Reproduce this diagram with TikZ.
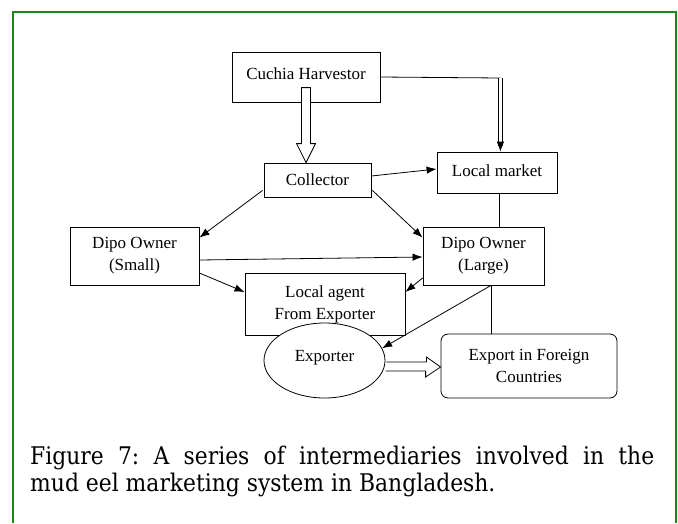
\documentclass[tikz,border=0pt]{standalone}
\usepackage{fontspec}
\setmainfont{Liberation Serif}
\newfontfamily\capfont{DejaVu Serif Condensed}
\usetikzlibrary{shapes.geometric, arrows.meta, calc}
\definecolor{framegreen}{RGB}{28,134,28}
\tikzstyle{box} = [rectangle, draw, line width=0.8pt, text centered, align=center, font=\fontsize{17}{22}\selectfont, inner sep=0pt]
\tikzstyle{oval} = [ellipse, draw, line width=0.8pt, fill=white, font=\fontsize{17}{22}\selectfont, inner sep=0pt]
\tikzstyle{arrow} = [line width=0.8pt, -{Latex[length=10pt,width=7.5pt]}]
\tikzstyle{link} = [line width=0.8pt]
\tikzstyle{hollow} = [line width=0.8pt, fill=white]

\begin{document}
\frenchspacing
\begin{tikzpicture}[x=1pt, y=-1pt]
	\useasboundingbox (0,0) rectangle (678,523);
	\draw [framegreen, line width=2.6pt] (13,523) -- (13,12) -- (676,12) -- (676,523);

	\node [box, minimum width=148pt, minimum height=50pt] at (306,77) (harv) {\raisebox{7pt}{Cuchia Harvestor}};
	\node [box, minimum width=107pt, minimum height=34pt] at (317.5,180) (coll) {Collector};
	\node [box, minimum width=120pt, minimum height=41pt] at (497,172.5) (market) {\raisebox{3pt}{Local market}};
	\node [box, minimum width=129pt, minimum height=58pt] at (134.5,256) (small) {Dipo Owner\\(Small)};
	\node [box, minimum width=121pt, minimum height=58pt] at (483.5,256) (large) {Dipo Owner\\(Large)};
	\node [box, minimum width=160pt, minimum height=62pt] at (325,304) (agent) {Local agent\\From Exporter};
	\node [oval, minimum width=121pt, minimum height=75pt] at (324.5,360.5) (exporter) {\raisebox{10pt}{Exporter}};
	\node [box, rounded corners=7pt, minimum width=176pt, minimum height=64pt] at (529,366) (foreign) {Export in Foreign\\Countries};

	% hollow arrow harvester to collector
	\coordinate (tip) at (harv.south |- coll.north);
	\draw [hollow] ($(tip)+(-4.5,-75)$) -- ++(9,0) -- ++(0,56) -- ++(5,0) -- (tip) -- ++(-9.5,-19) -- ++(5,0) -- cycle;
	% harvester to local market
	\draw [link] (harv.east) -- ++(120,1) coordinate (turn);
	\draw [link, double, double distance=2.6pt] (turn) -- ($(turn |- market.north)+(0,-6)$);
	\draw [arrow] ($(turn |- market.north)+(0,-8)$) -- (turn |- market.north);

	\draw [arrow] ($(coll.east)+(0,-4)$) -- ($(market.west)+(0,-3.5)$);
	\draw [arrow] ($(coll.south west)+(-1,-7)$) -- ($(small.north east)+(0,11)$);
	\draw [arrow] ($(coll.south east)+(1,-7)$) -- ($(large.north west)+(0,11)$);
	\draw [link] ($(market.south)+(2,0)$) coordinate (ms) -- (ms |- large.north);
	\draw [arrow] ($(small.east)+(0,4)$) -- ($(large.west)+(0,1)$);
	\draw [arrow] ($(small.east)+(0,17)$) -- ($(agent.west)+(0,-12)$);
	\draw [arrow] ($(large.west)+(0,22)$) -- ($(agent.east)+(0,-12)$);
	\draw [arrow] ($(large.south)+(7.5,0)$) coordinate (ls) -- (exporter.12);
	\draw [link] (ls) -- (ls |- foreign.north);

	% hollow arrow exporter to foreign
	\draw [hollow] ($(exporter.east)+(1,1.5)$) -- ++(40,0) -- ++(0,-5) -- ($(foreign.west)+(0,1)$) -- ++(-15,10) -- ++(0,-6) -- ++(-40,0);

	\node [text width=624pt, align=justify, anchor=north west, inner sep=0pt, font=\capfont\fontsize{24.3}{27}\selectfont] at (30,446) (caption)
		{\makebox[624pt][s]{Figure 7: A series of intermediaries involved in the}\\mud eel marketing system in Bangladesh.};
\end{tikzpicture}
\end{document}
